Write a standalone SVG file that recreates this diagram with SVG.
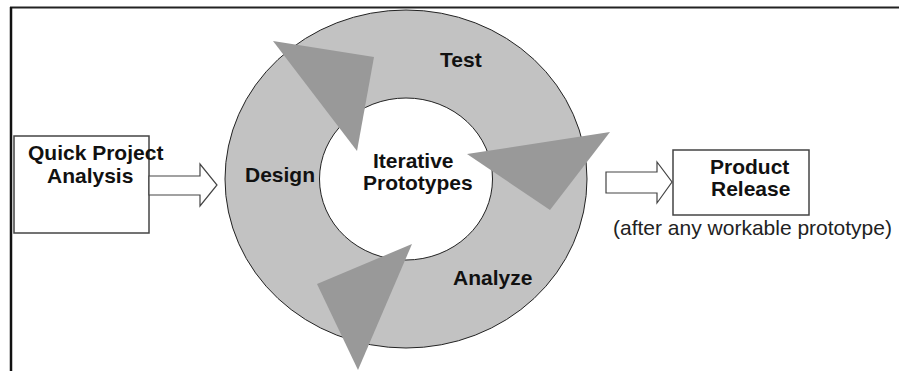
<svg xmlns="http://www.w3.org/2000/svg" width="899" height="371" viewBox="0 0 899 371">
  <style>
    .lbl { font-family: "Liberation Sans", Arial, sans-serif; font-size: 21px; font-weight: bold; fill: #111; }
    .note { font-family: "Liberation Sans", Arial, sans-serif; font-size: 21px; fill: #222; }
    .box { fill: #fff; stroke: #444; stroke-width: 1.5; }
    .tri { fill: #999999; stroke: none; }
    .blk { fill: #fff; stroke: #444; stroke-width: 1.2; stroke-linejoin: miter; }
  </style>
  <rect width="899" height="371" fill="#fff"/>
  <g id="frame">
    <line x1="10" y1="7.5" x2="899" y2="7.5" stroke="#222" stroke-width="2"/>
    <line x1="11" y1="7" x2="11" y2="371" stroke="#111" stroke-width="2.5"/>
  </g>
  <g id="cycle">
    <path fill="#c2c2c2" stroke="#222" stroke-width="1" fill-rule="evenodd"
      d="M225,179 a181,169 0 1,0 362,0 a181,169 0 1,0 -362,0 Z M319.5,179 a86.5,81 0 1,0 173,0 a86.5,81 0 1,0 -173,0 Z"/>
    <polygon class="tri" points="273,41 374,57 357,151"/>
    <polygon class="tri" points="467,154 610,132 550,210"/>
    <polygon class="tri" points="317,284 412,244 358,370"/>
    <text class="lbl" x="440" y="67">Test</text>
    <text class="lbl" x="245" y="182">Design</text>
    <text class="lbl" x="453" y="285">Analyze</text>
    <text class="lbl" x="373" y="168">Iterative</text>
    <text class="lbl" x="363" y="190">Prototypes</text>
  </g>
  <g id="quick-project-analysis">
    <rect class="box" x="14" y="136" width="135" height="97"/>
    <text class="lbl" x="28" y="160">Quick Project</text>
    <text class="lbl" x="47" y="183">Analysis</text>
  </g>
  <g id="product-release">
    <rect class="box" x="673" y="150" width="136" height="65"/>
    <text class="lbl" x="710" y="174">Product</text>
    <text class="lbl" x="711" y="196">Release</text>
    <text class="note" x="613" y="235">(after any workable prototype)</text>
  </g>
  <g id="connectors">
    <polygon class="blk" points="149,176 200,176 200,164 217,185 200,206 200,195 149,195"/>
    <polygon class="blk" points="606,172 657,172 657,162 672,182 657,203 657,193 606,193"/>
  </g>
</svg>
